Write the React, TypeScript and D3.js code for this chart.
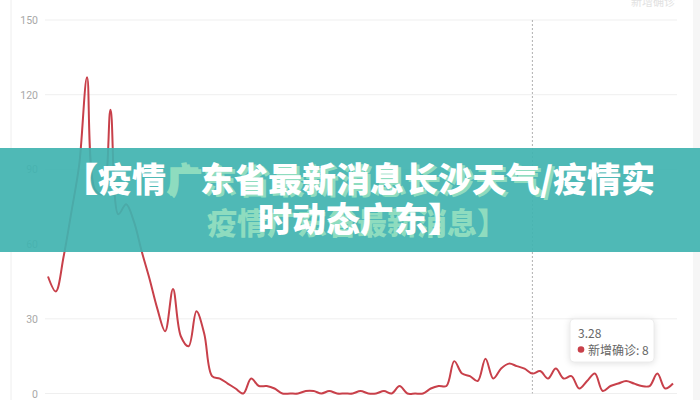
import React from "react";
import * as d3 from "d3";

const dates: string[] = [
  "1.26","1.27","1.28","1.29","1.30","1.31",
  "2.1","2.2","2.3","2.4","2.5","2.6","2.7","2.8","2.9","2.10","2.11","2.12","2.13","2.14","2.15","2.16","2.17","2.18","2.19","2.20","2.21","2.22","2.23","2.24","2.25","2.26","2.27","2.28","2.29",
  "3.1","3.2","3.3","3.4","3.5","3.6","3.7","3.8","3.9","3.10","3.11","3.12","3.13","3.14","3.15","3.16","3.17","3.18","3.19","3.20","3.21","3.22","3.23","3.24","3.25","3.26","3.27","3.28","3.29","3.30","3.31",
  "4.1","4.2","4.3","4.4","4.5","4.6","4.7","4.8","4.9","4.10","4.11","4.12","4.13","4.14","4.15",
];

const newConfirmed: number[] = [
  47, 41, 55, 73, 92, 127, 82, 80, 114, 72,
  76, 69, 57, 46, 34, 25, 42, 23, 19, 33,
  24, 7, 6, 4, 2, 0, 6, 3, 3, 2,
  0, 0, 0, 1, 1, 0, 1, 0, 0, 0,
  1, 0, 0, 1, 0, 3, 0, 0, 0, 2,
  3, 3, 13, 8, 7, 5, 14, 6, 10, 12,
  11, 10, 8, 9, 6, 10, 6, 7, 2, 5,
  8, 1, 3, 4, 5, 4, 3, 3, 8, 2,
  4,
];

const yTicks: number[] = [0, 30, 60, 90, 120, 150];
const seriesName = "新增确诊";
const tooltipDate = "3.28";
const titleLine1 = "【疫情广东省最新消息长沙天气/疫情实";
const titleLine2 = "时动态广东】";
const ghostLine1 = "广东省最新消息长沙天气/";
const ghostLine2 = "疫情广东省最新消息】";

export default function App() {
  const W = 700, H = 400;
  const x = d3.scalePoint<string>().domain(dates).range([48, 673]);
  const y = d3.scaleLinear().domain([0, 150]).range([393.5, 20]);
  const line = d3
    .line<number>()
    .x((_, i) => x(dates[i]) as number)
    .y((d) => y(d))
    .curve(d3.curveCatmullRom.alpha(0.5));

  const ti = dates.indexOf(tooltipDate);
  const tx = x(tooltipDate) as number;
  const tv = newConfirmed[ti];

  const cjk = '"Noto Sans CJK SC", "Noto Sans", sans-serif';
  const ghost = "#8edcbf";

  const l1chars = Array.from(titleLine1);

  return (
    <svg
      width={W}
      height={H}
      style={{ position: "absolute", left: 0, top: 0, background: "#fff" }}
      fontFamily={cjk}
    >
      <rect x={0} y={0} width={W} height={H} fill="#fff" />
      <line x1={11} x2={11} y1={0} y2={H} stroke="#eeeeee" />
      <rect x={693} y={0} width={7} height={H} fill="#f6f6f6" />
      <text x={675} y={6} textAnchor="end" fontSize={11} fill="#e2e2e2">
        {seriesName}
      </text>

      {yTicks.map((t) => (
        <g key={t}>
          <line x1={45} x2={677} y1={y(t)} y2={y(t)} stroke="#efefef" />
          <text
            x={38}
            y={y(t) + 4}
            textAnchor="end"
            fontSize={10.5}
            fill="#a8a8a8"
            fontFamily="Roboto, sans-serif"
          >
            {t}
          </text>
        </g>
      ))}

      <line
        x1={tx}
        x2={tx}
        y1={y(150)}
        y2={y(0)}
        stroke="#b0b0b0"
        strokeDasharray="2,2"
      />

      <path
        d={line(newConfirmed) || ""}
        fill="none"
        stroke="#c8404a"
        strokeWidth={2}
      />

      {/* tooltip */}
      <g>
        <rect
          x={570}
          y={319}
          width={84}
          height={43}
          rx={4}
          fill="#fff"
          stroke="#ececec"
          style={{ filter: "drop-shadow(0px 1px 3px rgba(0,0,0,0.12))" }}
        />
        <text x={578} y={338} fontSize={12} fill="#666">
          {tooltipDate}
        </text>
        <circle cx={581} cy={349.5} r={3.3} fill="#c8404a" />
        <text x={588} y={354.5} fontSize={12} fill="#666">
          {seriesName}: {tv}
        </text>
      </g>

      {/* banner */}
      <rect x={0} y={148} width={W} height={104} fill="rgb(64,179,176)" opacity={0.92} />

      <text x={169} y={194} fontSize={34} fontWeight={900} fill={ghost}>
        {ghostLine1}
      </text>
      <text x={207} y={234} fontSize={30} fontWeight={900} fill={ghost}>
        {ghostLine2}
      </text>

      <text x={64} y={192} fontSize={34} fontWeight={900} fill="#fff">
        {l1chars.map((c, i) => (
          <tspan key={i} fill={i === 3 ? ghost : "#fff"}>
            {c}
          </tspan>
        ))}
      </text>
      <text x={258} y={232} fontSize={34} fontWeight={900} fill="#fff">
        {titleLine2}
      </text>
    </svg>
  );
}
